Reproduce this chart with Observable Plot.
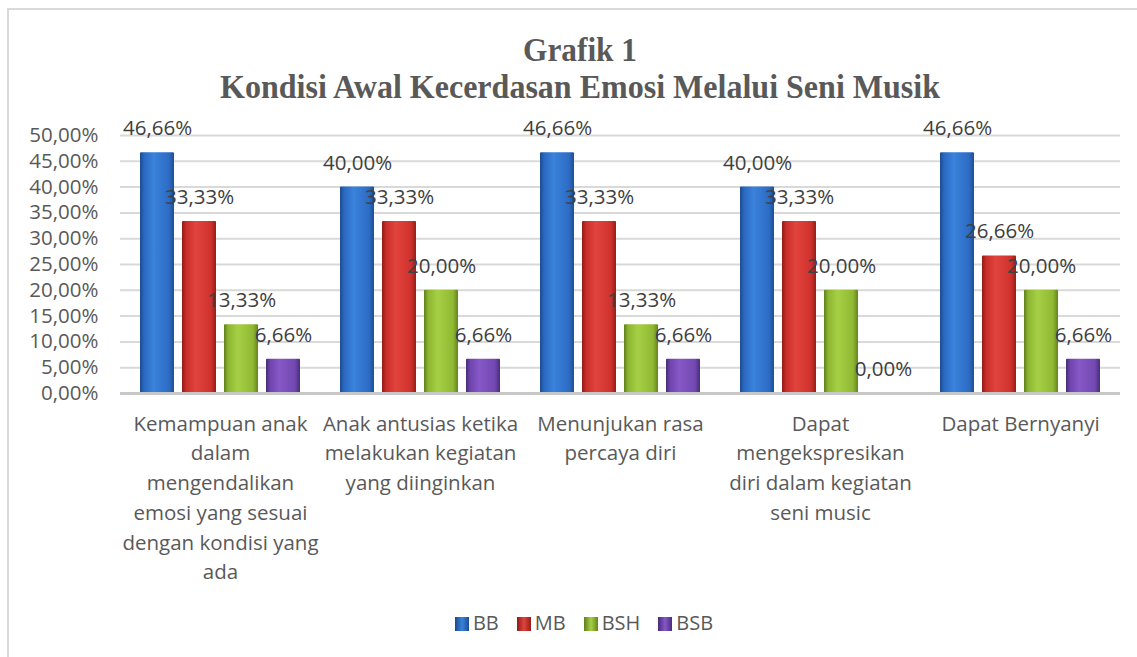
<!DOCTYPE html>
<html>
<head>
<meta charset="utf-8">
<script src="https://cdn.jsdelivr.net/npm/d3@7"></script>
<script src="https://cdn.jsdelivr.net/npm/@observablehq/plot@0.6"></script>
<style>
  html, body { margin: 0; padding: 0; background: #fff; width: 1137px; height: 657px; overflow: hidden; }
  body { position: relative; font-family: "Open Sans", sans-serif; }
  #frame { position: absolute; left: 7px; top: 8px; width: 1300px; height: 800px; border: 2px solid #d9d9d9; box-sizing: border-box; }
  #title { position: absolute; top: 32px; left: 0; width: 1160px; text-align: center; font-family: "Liberation Serif", serif; font-weight: bold; font-size: 33px; line-height: 37px; color: #595959; }
  #title span { display: inline-block; white-space: nowrap; transform-origin: center; }
  #chart { position: absolute; left: 0; top: 100px; }
  #legend { position: absolute; top: 609px; left: 0; width: 1168px; text-align: center; font-size: 20px; line-height: 28px; color: #595959; }
  #legend .item { display: inline-block; margin: 0 9px; }
  #legend .sw { display: inline-block; width: 14px; height: 14px; margin-right: 4px; vertical-align: -1px; }
</style>
</head>
<body>
<div id="frame"></div>
<div id="title"><span id="t1">Grafik 1</span><br><span id="t2">Kondisi Awal Kecerdasan Emosi Melalui Seni Musik</span></div>
<div id="chart"></div>
<div id="legend"></div>
<script>
const categories = [
  "Kemampuan anak\ndalam\nmengendalikan\nemosi yang sesuai\ndengan kondisi yang\nada",
  "Anak antusias ketika\nmelakukan kegiatan\nyang diinginkan",
  "Menunjukan rasa\npercaya diri",
  "Dapat\nmengekspresikan\ndiri dalam kegiatan\nseni music",
  "Dapat Bernyanyi"
];
const series = ["BB", "MB", "BSH", "BSB"];
const BB  = [46.66, 40.00, 46.66, 40.00, 46.66];
const MB  = [33.33, 33.33, 33.33, 33.33, 26.66];
const BSH = [13.33, 20.00, 13.33, 20.00, 20.00];
const BSB = [6.66, 6.66, 6.66, 0.00, 6.66];
const yTicks = [0, 5, 10, 15, 20, 25, 30, 35, 40, 45, 50];

const gradStops = {
  BB:  ["#1b4a8f", "#2a69c0", "#3a82dc", "#2d6cc4", "#1d4f96"],
  MB:  ["#8f1b17", "#c92d28", "#e0443d", "#cf322c", "#951d19"],
  BSH: ["#5f7f1a", "#8cb532", "#a6d044", "#90b934", "#64841c"],
  BSB: ["#472a78", "#6f45ad", "#8658c8", "#7248b1", "#4b2d7e"]
};

const fmt = v => v.toFixed(2).replace(".", ",") + "%";
const allValues = [BB, MB, BSH, BSB];
const data = [];
categories.forEach((c, i) => series.forEach((s, j) => data.push({cat: c, series: s, value: allValues[j][i]})));

const W = 1137, H = 500;
const chart = Plot.plot({
  width: W,
  height: H,
  marginTop: 35,
  marginBottom: 207,
  marginLeft: 119,
  marginRight: 16,
  style: {fontFamily: "Open Sans", fontSize: "20px", color: "#595959", background: "transparent", overflow: "visible"},
  fx: {domain: categories, padding: 0, label: null},
  x: {domain: series, paddingInner: 0.186, paddingOuter: 0.42, axis: null},
  y: {domain: [0, 50], label: null},
  color: {domain: series, range: series.map(s => `url(#g-${s})`)},
  marks: [
    Plot.gridY(yTicks, {stroke: "#d9d9d9", strokeOpacity: 1, strokeWidth: 2}),
    Plot.axisY(yTicks, {tickSize: 0, tickPadding: 22, tickFormat: fmt, fontSize: 20.5, label: null}),
    Plot.axisFx({anchor: "bottom", tickSize: 0, tickPadding: 16, fontSize: 20.5, lineHeight: 1.45, label: null, lineAnchor: "top"}),
    Plot.barY(data, {fx: "cat", x: "series", y: "value", fill: "series", rx: 1}),
    Plot.ruleY([0], {stroke: "#c8c8c8", strokeWidth: 3}),
    Plot.text(data, {fx: "cat", x: "series", y: "value", text: d => fmt(d.value), dy: -24, fill: "#404040", fontSize: 20.5})
  ]
});

// gradients for cylinder-like bar shading
const svg = d3.select(chart.tagName === "svg" ? chart : chart.querySelector("svg"));
const defs = svg.insert("defs", ":first-child");
series.forEach(s => {
  const g = defs.append("linearGradient").attr("id", `g-${s}`).attr("x1", "0").attr("x2", "1").attr("y1", "0").attr("y2", "0");
  const offs = [0, 0.12, 0.4, 0.85, 1];
  gradStops[s].forEach((c, k) => g.append("stop").attr("offset", offs[k]).attr("stop-color", c));
});
document.getElementById("chart").appendChild(chart);

// legend
const legend = d3.select("#legend");
series.forEach((s, j) => {
  const it = legend.append("span").attr("class", "item");
  it.append("span").attr("class", "sw").style("background", `linear-gradient(90deg, ${gradStops[s][0]}, ${gradStops[s][2]}, ${gradStops[s][4]})`);
  it.append("span").text(s);
});

// fit the title lines to the reference's condensed widths
const fit = (id, target) => {
  const el = document.getElementById(id);
  el.style.transform = `scaleX(${target / el.getBoundingClientRect().width})`;
};
fit("t2", 720);
fit("t1", 114);
</script>
</body>
</html>
